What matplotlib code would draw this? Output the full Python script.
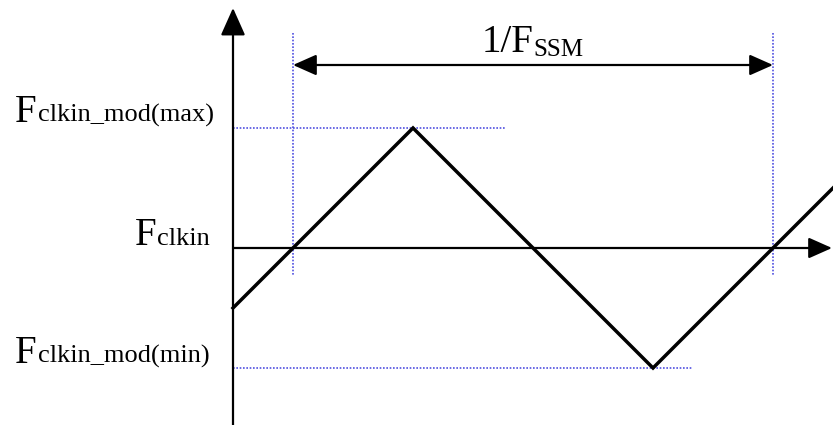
import matplotlib.pyplot as plt

# triangle modulation, x = time, y = frequency offset from F_clkin (diagram units)
wave_t = [0, 180, 420, 600]
wave_f = [-60, 120, -120, 60]
f_max = 120
f_min = -120
t_cross = [60, 540]          # where the wave crosses F_clkin, one SSM period apart
label_f = {'max': 126, 'clkin': 3, 'min': -115}

serif = 'Liberation Serif'
blue = '#5050e0'

fig = plt.figure(figsize=(8.33, 4.25), dpi=100)
ax = fig.add_axes([0, 0, 1, 1])
ax.set_xlim(-233, 600)
ax.set_ylim(-177, 248)
ax.axis('off')

# axes with arrow heads
ax.annotate('', xy=(0, 240), xytext=(0, -177),
            arrowprops=dict(arrowstyle='-|>,head_length=0.85,head_width=0.38', mutation_scale=20,
                            lw=1.6, color='black', shrinkA=0, shrinkB=0))
ax.annotate('', xy=(599, 0), xytext=(0, 0),
            arrowprops=dict(arrowstyle='-|>,head_length=0.72,head_width=0.32', mutation_scale=20,
                            lw=1.6, color='black', shrinkA=0, shrinkB=0))

# dotted guides
for t in t_cross:
    ax.plot([t, t], [215, -27], color=blue, lw=1.2, ls=(0, (1, 1)))
ax.plot([0, 273], [f_max, f_max], color=blue, lw=1.2, ls=(0, (1, 1)))
ax.plot([0, 460], [f_min, f_min], color=blue, lw=1.2, ls=(0, (1, 1)))

# period arrow
ax.annotate('', xy=(t_cross[0], 183), xytext=(t_cross[1], 183),
            arrowprops=dict(arrowstyle='<|-|>,head_length=0.72,head_width=0.32', mutation_scale=20,
                            lw=1.6, color='black', shrinkA=0, shrinkB=0))
ax.text(249, 196, '1/F', fontsize=28, fontfamily=serif, va='baseline')
ax.text(300, 192, 'SSM', fontsize=18, fontfamily=serif, va='baseline')

# the modulation waveform
ax.plot(wave_t, wave_f, color='black', lw=2.5, solid_joinstyle='miter')

# level labels
ax.text(-218, label_f['max'], 'F', fontsize=28, fontfamily=serif, va='baseline')
ax.text(-195, label_f['max'], 'clkin_mod(max)', fontsize=19, fontfamily=serif, va='baseline')
ax.text(-98, label_f['clkin'], 'F', fontsize=28, fontfamily=serif, va='baseline')
ax.text(-76, label_f['clkin'], 'clkin', fontsize=19, fontfamily=serif, va='baseline')
ax.text(-218, label_f['min'], 'F', fontsize=28, fontfamily=serif, va='baseline')
ax.text(-195, label_f['min'], 'clkin_mod(min)', fontsize=19, fontfamily=serif, va='baseline')

fig.savefig('out.png', dpi=100)
